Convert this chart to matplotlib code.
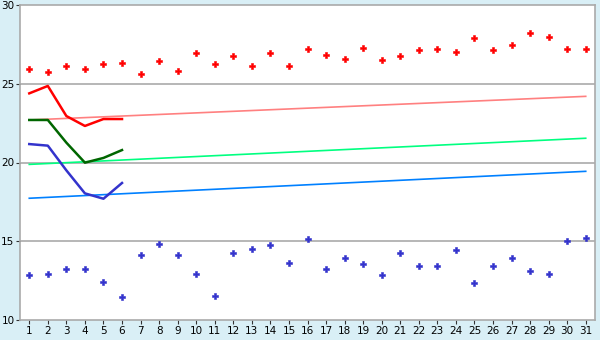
import numpy as np
import matplotlib
matplotlib.use("Agg")
import matplotlib.pyplot as plt

days = list(range(1, 32))
high_pts = [25.92, 25.75, 26.10, 25.92, 26.23, 26.30, 25.60, 26.42, 25.79, 26.93,
            26.23, 26.74, 26.10, 26.93, 26.10, 27.19, 26.80, 26.60, 27.30, 26.50,
            26.74, 27.12, 27.19, 27.00, 27.88, 27.12, 27.44, 28.20, 28.00, 27.19, 27.19]
low_pts = [12.84, 12.90, 13.22, 13.22, 12.40, 11.44, 14.11, 14.81, 14.11, 12.90,
           11.51, 14.24, 14.49, 14.75, 13.60, 15.13, 13.22, 13.92, 13.54, 12.84,
           14.24, 13.41, 13.41, 14.43, 12.33, 13.41, 13.92, 13.10, 12.90, 15.00, 15.19]
cur_days = [1, 2, 3, 4, 5, 6]
cur_high = [24.39, 24.86, 22.95, 22.32, 22.76, 22.76]
cur_mid = [22.70, 22.70, 21.26, 19.99, 20.29, 20.79]
cur_low = [21.17, 21.07, 19.50, 18.04, 17.70, 18.70]
trend_days = [1, 31]
trend_high = [22.70, 24.20]
trend_mid = [19.88, 21.54]
trend_low = [17.73, 19.44]

BG = "#D9EFF6"
GRID = "#AAAAAA"

fig = plt.figure(figsize=(6, 3.4), dpi=100, facecolor=BG)
ax = fig.add_axes([20 / 600, 20 / 340, 575 / 600, 315 / 340])
ax.set_facecolor("white")

for y in (15, 20, 25):
    ax.axhline(y, color=GRID, lw=1.2, zorder=1)

ax.plot(trend_days, trend_high, color="#FF8080", lw=1.2, zorder=2)
ax.plot(trend_days, trend_mid, color="#00FF80", lw=1.2, zorder=2)
ax.plot(trend_days, trend_low, color="#0080FF", lw=1.2, zorder=2)

ax.plot(cur_days, cur_high, color="#FF0000", lw=1.8, zorder=3)
ax.plot(cur_days, cur_mid, color="#006600", lw=1.8, zorder=3)
ax.plot(cur_days, cur_low, color="#3333CC", lw=1.8, zorder=3)

ax.plot(days, high_pts, ls="none", marker="P", ms=4.6, color="#FF0000",
        mec="#FF0000", mew=0.4, zorder=4)
ax.plot(days, low_pts, ls="none", marker="P", ms=4.6, color="#3333CC",
        mec="#3333CC", mew=0.4, zorder=4)

ax.set_xlim(0.5, 31.5)
ax.set_ylim(10, 30)
ax.set_xticks(days)
ax.set_yticks([10, 15, 20, 25, 30])
ax.tick_params(labelsize=7.5, length=3, color="#333333", pad=1.5)
ax.tick_params(axis="y", pad=1)
for s in ax.spines.values():
    s.set_color(GRID)
    s.set_linewidth(1.2)

fig.savefig("out.png", dpi=100, facecolor=BG)
